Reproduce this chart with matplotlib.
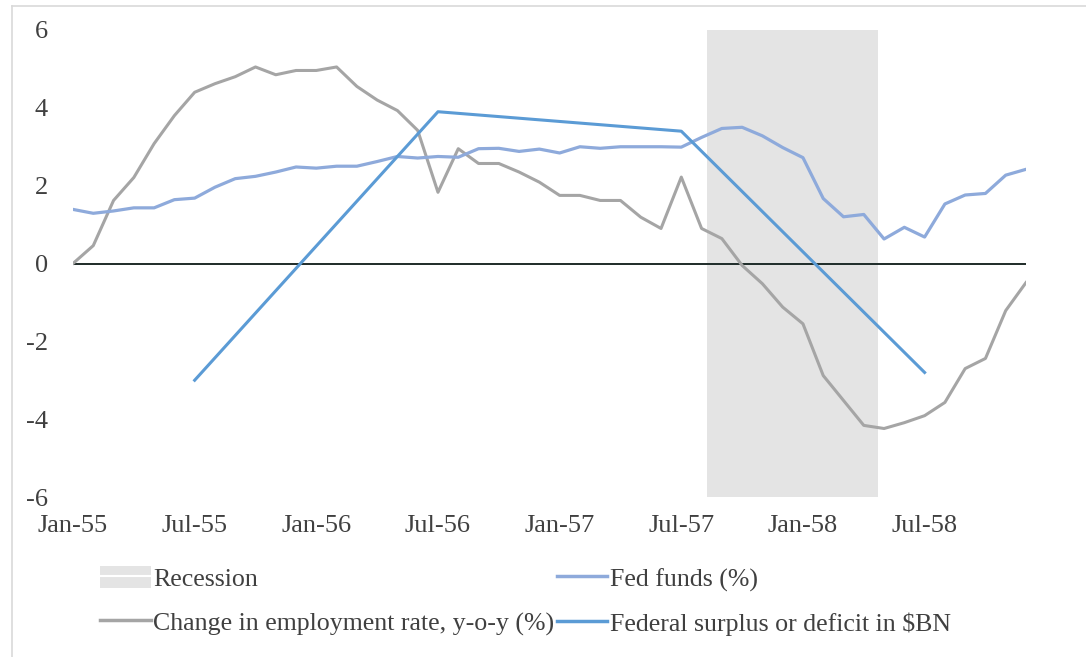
import numpy as np
import pandas as pd
import matplotlib
matplotlib.use("Agg")
import matplotlib.pyplot as plt
from matplotlib.lines import Line2D
from matplotlib.patches import Patch

plt.rcParams["font.family"] = ["Liberation Serif", "DejaVu Serif"]

# --------- data (monthly, Jan-55 .. Dec-58) ----------
months = pd.date_range("1955-01-01", periods=48, freq="MS")

fed_funds = [1.39, 1.29, 1.35, 1.43, 1.43, 1.64, 1.68, 1.96, 2.18, 2.24, 2.35, 2.48,
             2.45, 2.50, 2.50, 2.62, 2.75, 2.71, 2.75, 2.73, 2.95, 2.96, 2.88, 2.94,
             2.84, 3.00, 2.96, 3.00, 3.00, 3.00, 2.99, 3.24, 3.47, 3.50, 3.28, 2.98,
             2.72, 1.67, 1.20, 1.26, 0.63, 0.93, 0.68, 1.53, 1.76, 1.80, 2.27, 2.42]

emp_change = [0.00, 0.46, 1.62, 2.21, 3.08, 3.80, 4.40, 4.62, 4.80, 5.05, 4.85, 4.96,
              4.96, 5.05, 4.55, 4.20, 3.93, 3.42, 1.83, 2.95, 2.57, 2.57, 2.35, 2.09,
              1.75, 1.75, 1.62, 1.62, 1.19, 0.90, 2.22, 0.90, 0.64, -0.05, -0.52, -1.12,
              -1.55, -2.88, -3.52, -4.16, -4.24, -4.09, -3.91, -3.57, -2.70, -2.44, -1.21, -0.49]

deficit_months = ["1955-07-01", "1956-07-01", "1957-07-01", "1958-07-01"]
deficit = [-3.0, 3.9, 3.4, -2.8]

recession_start = "1957-08-01"
recession_end = "1958-04-01"

# --------- colours ----------
C_EMP = "#a5a5a5"
C_FED = "#8eaadb"
C_DEF = "#5b9bd5"
C_REC = "#e4e4e4"
C_TXT = "#404040"

x = np.arange(len(months))
pos = {m: i for i, m in enumerate(months)}
def_x = [pos[pd.Timestamp(m)] for m in deficit_months]
rec_a = pos[pd.Timestamp(recession_start)]
rec_b = pos[pd.Timestamp(recession_end)]

W, H = 1086, 657
fig = plt.figure(figsize=(W / 100, H / 100), dpi=100)
ax = fig.add_axes([73 / W, 1 - 497 / H, (1026 - 73) / W, (497 - 30) / H])

ax.axvspan(rec_a + 0.25, rec_b + 0.7, color=C_REC, lw=0, zorder=0)
ax.axhline(0, color="#1e2b28", lw=1.4, zorder=1)
ax.plot(x, emp_change, color=C_EMP, lw=2.2, zorder=2, solid_joinstyle="round")
ax.plot(x, fed_funds, color=C_FED, lw=2.3, zorder=3, solid_joinstyle="round")
ax.plot(def_x, deficit, color=C_DEF, lw=2.2, zorder=4)

ax.set_xlim(0, len(months) - 1)
ax.set_ylim(-6, 6)
ax.set_yticks(range(-6, 7, 2))
ax.set_yticklabels([str(v) for v in range(-6, 7, 2)])
ax.set_xticks(x[::6])
ax.set_xticklabels([m.strftime("%b-%y") for m in months[::6]])
ax.tick_params(axis="both", length=0, labelsize=19, colors=C_TXT)
ax.tick_params(axis="y", pad=18)
ax.tick_params(axis="x", pad=13)
for s in ax.spines.values():
    s.set_visible(False)

# --------- legend ----------
rec_handle = (Patch(facecolor=C_REC, edgecolor="none"), Line2D([], [], color="white", lw=1.5))
handles = [rec_handle,
           Line2D([], [], color=C_EMP, lw=2.5),
           Line2D([], [], color=C_FED, lw=2.5),
           Line2D([], [], color=C_DEF, lw=2.5)]
labels = ["Recession", "Change in employment rate, y-o-y (%)",
          "Fed funds (%)", "Federal surplus or deficit in $BN"]
fig.legend(handles, labels, ncol=2, frameon=False, fontsize=18.6,
           loc="center left", bbox_to_anchor=(90 / W, 1 - 601 / H),
           handlelength=1.95, handleheight=0.9, handletextpad=0.1, columnspacing=0.1,
           labelspacing=0.75, labelcolor=C_TXT, borderaxespad=0)

# chart frame (cropped at right / bottom)
fig.add_artist(Line2D([12 / W, 12 / W], [0, 1 - 6 / H], color="#d9d9d9", lw=1.2))
fig.add_artist(Line2D([12 / W, 1], [1 - 6 / H, 1 - 6 / H], color="#d9d9d9", lw=1.2))

fig.savefig("out.png", dpi=100)
